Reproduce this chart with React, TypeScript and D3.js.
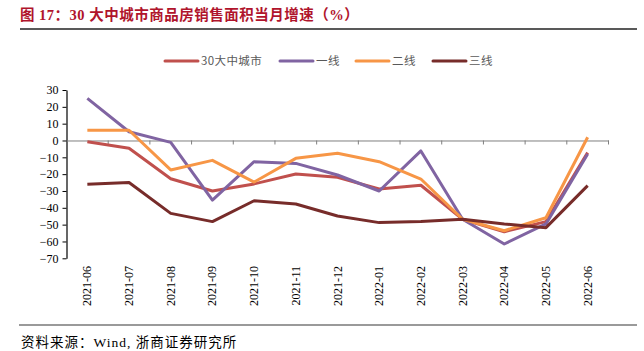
import { useEffect, useRef } from "react";
import * as d3 from "d3";

const months = [
  "2021-06", "2021-07", "2021-08", "2021-09", "2021-10", "2021-11", "2021-12",
  "2022-01", "2022-02", "2022-03", "2022-04", "2022-05", "2022-06",
];

const city30 = [-0.7, -4.6, -22.7, -30, -25.8, -19.9, -21.9, -28.8, -26.6, -46.8, -54.2, -48.2, -7.2];
const tier1 = [25, 5.2, -1.1, -35.4, -12.6, -13.6, -20.5, -30, -6.2, -46.8, -61.5, -49.6, -8];
const tier2 = [6.1, 6.1, -17.5, -11.8, -24.7, -10.6, -7.6, -12.6, -22.9, -46.8, -53.6, -45.9, 1.9];
const tier3 = [-26, -25, -43.3, -48.2, -35.8, -37.7, -44.9, -48.8, -48.2, -46.8, -49.6, -51.8, -26.8];

const seriesNames = ["30大中城市", "一线", "二线", "三线"];
const seriesColors = ["#C0504D", "#8064A2", "#F79646", "#772C2A"];
const yTicks = [30, 20, 10, 0, -10, -20, -30, -40, -50, -60, -70];

const W = 644;
const H = 351;

export default function App() {
  const svgRef = useRef<SVGSVGElement>(null);

  useEffect(() => {
    if (!svgRef.current) return;
    const svg = d3.select(svgRef.current);
    svg.selectAll("*").remove();

    const serif = "'Liberation Serif', 'Times New Roman', 'Noto Sans CJK SC', serif";
    const cjk = "'Liberation Serif', 'Noto Sans CJK SC', serif";

    // title + rule
    svg.append("text")
      .attr("x", 20)
      .attr("y", 20)
      .attr("font-family", cjk)
      .attr("font-weight", "bold")
      .attr("font-size", 14.5)
      .attr("letter-spacing", 0.5)
      .attr("fill", "#B0142C")
      .text("图 17：30 大中城市商品房销售面积当月增速（%）");
    svg.append("line")
      .attr("x1", 20).attr("x2", 637)
      .attr("y1", 29).attr("y2", 29)
      .attr("stroke", "#222").attr("stroke-width", 1.5);

    // legend
    const legendX = [165, 280, 356, 433];
    seriesNames.forEach((name, i) => {
      const g = svg.append("g").attr("transform", `translate(${legendX[i]}, 61)`);
      g.append("line")
        .attr("x1", 0).attr("x2", 33)
        .attr("stroke", seriesColors[i])
        .attr("stroke-width", 3)
        .attr("stroke-linecap", "round");
      g.append("text")
        .attr("x", 36)
        .attr("y", 4)
        .attr("font-family", "'Noto Sans CJK SC', sans-serif")
        .attr("font-size", 11.5)
        .attr("letter-spacing", 0.4)
        .attr("fill", "#595959")
        .text(name);
    });

    const x = d3.scaleBand<string>().domain(months).range([66.5, 608.5]);
    const y = d3.scaleLinear().domain([-70, 30]).range([258.3, 90]);

    // y axis
    const yAxis = svg.append("g")
      .attr("transform", "translate(66.5, 0)")
      .call(d3.axisLeft(y).tickValues(yTicks).tickSize(4).tickPadding(4).tickSizeOuter(0));
    yAxis.select(".domain").attr("stroke", "#000").attr("stroke-width", 1.2);
    yAxis.selectAll(".tick line").attr("stroke", "#000");
    yAxis.selectAll("text")
      .attr("font-family", serif)
      .attr("font-size", 12)
      .attr("fill", "#000");

    // x axis on zero line
    const xAxis = svg.append("g")
      .attr("transform", `translate(0, ${y(0)})`)
      .call(d3.axisBottom(x).tickSize(0).tickFormat(() => ""));
    xAxis.select(".domain").attr("stroke", "#7f7f7f").attr("stroke-width", 1);
    const bounds = [...months.map((m) => x(m) as number), 608.5];
    xAxis.selectAll("line.bt")
      .data(bounds.slice(1))
      .enter()
      .append("line")
      .attr("class", "bt")
      .attr("x1", (d) => d).attr("x2", (d) => d)
      .attr("y1", 0).attr("y2", 4)
      .attr("stroke", "#7f7f7f");

    // rotated month labels at bottom
    svg.append("g")
      .selectAll("text")
      .data(months)
      .enter()
      .append("text")
      .attr("transform", (d) => `translate(${(x(d) as number) + x.bandwidth() / 2 + 4}, 266) rotate(-90)`)
      .attr("text-anchor", "end")
      .attr("font-family", serif)
      .attr("font-size", 12)
      .attr("fill", "#000")
      .text((d) => d);

    // series lines
    const line = d3.line<number>()
      .x((_, i) => (x(months[i]) as number) + x.bandwidth() / 2)
      .y((d) => y(d));
    [city30, tier1, tier2, tier3].forEach((vals, i) => {
      svg.append("path")
        .datum(vals)
        .attr("d", line)
        .attr("fill", "none")
        .attr("stroke", seriesColors[i])
        .attr("stroke-width", 3)
        .attr("stroke-linejoin", "round");
    });

    // bottom rule + source
    svg.append("line")
      .attr("x1", 19).attr("x2", 637)
      .attr("y1", 325).attr("y2", 325)
      .attr("stroke", "#9a9a9a").attr("stroke-width", 2);
    svg.append("text")
      .attr("x", 21)
      .attr("y", 347)
      .attr("font-family", cjk)
      .attr("font-size", 13.5)
      .attr("letter-spacing", 1)
      .attr("fill", "#000")
      .text("资料来源：Wind, 浙商证券研究所");
  }, []);

  return (
    <svg
      ref={svgRef}
      width={W}
      height={H}
      style={{ position: "absolute", left: 0, top: 0, background: "#fff" }}
    />
  );
}
